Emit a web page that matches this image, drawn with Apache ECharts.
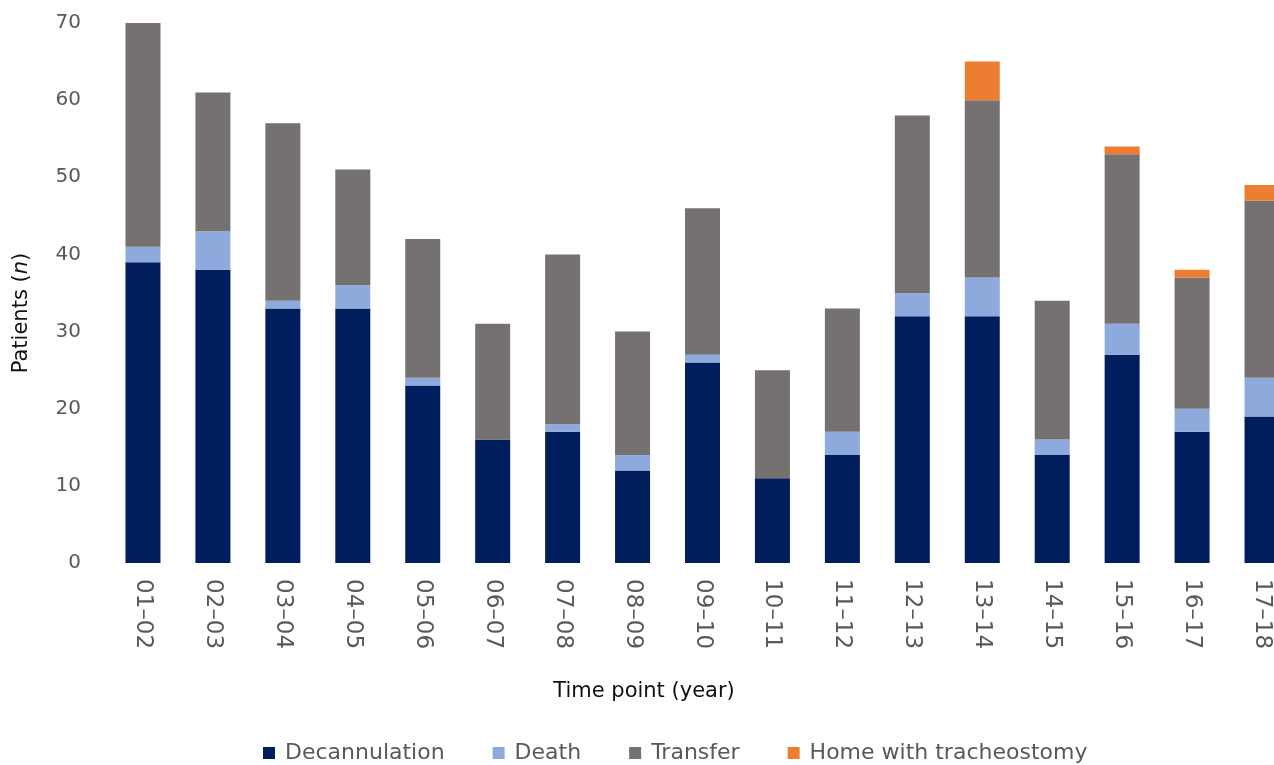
<!DOCTYPE html>
<html>
<head>
<meta charset="utf-8">
<title>Patients by outcome and time point</title>
<script src="https://cdn.jsdelivr.net/npm/echarts@6/dist/echarts.min.js"></script>
<style>
  html, body { margin: 0; padding: 0; background: #ffffff; overflow: hidden; width: 1274px; height: 765px; }
  /* canvas is wider than the window so the plot area can run past the right edge */
  #chart { width: 1300px; height: 765px; }
</style>
</head>
<body>
<div id="chart"></div>
<script>
// Academic years (first year – second year)
const categories = ['01–02', '02–03', '03–04', '04–05', '05–06', '06–07', '07–08', '08–09',
  '09–10', '10–11', '11–12', '12–13', '13–14', '14–15', '15–16', '16–17', '17–18'];

// Patient counts per outcome
const decannulation = [39, 38, 33, 33, 23, 16, 17, 12, 26, 11, 14, 32, 32, 14, 27, 17, 19];
const death         = [2, 5, 1, 3, 1, 0, 1, 2, 1, 0, 3, 3, 5, 2, 4, 3, 5];
const transfer      = [29, 18, 23, 15, 18, 15, 22, 16, 19, 14, 16, 23, 23, 18, 22, 17, 23];
const homeTrach     = [0, 0, 0, 0, 0, 0, 0, 0, 0, 0, 0, 0, 5, 0, 1, 1, 2];

const yTicks = [0, 10, 20, 30, 40, 50, 60, 70];

const seriesDefs = [
  { name: 'Decannulation', data: decannulation, color: '#001E5E' },
  { name: 'Death', data: death, color: '#8EA9DB' },
  { name: 'Transfer', data: transfer, color: '#767171' },
  { name: 'Home with tracheostomy', data: homeTrach, color: '#ED7D31' }
];

const chart = echarts.init(document.getElementById('chart'), null, { renderer: 'canvas' });

chart.setOption({
  animation: false,
  backgroundColor: '#ffffff',
  grid: { left: 108, width: 1189, top: 23, height: 540, containLabel: false },
  xAxis: {
    type: 'category',
    data: categories,
    axisLine: { show: false },
    axisTick: { show: false },
    axisLabel: {
      rotate: -90,
      margin: 16,
      color: '#595959',
      fontSize: 23,
      fontFamily: 'DejaVu Sans'
    }
  },
  yAxis: {
    type: 'value',
    min: yTicks[0],
    max: yTicks[yTicks.length - 1],
    interval: 10,
    axisLine: { show: false },
    axisTick: { show: false },
    splitLine: { show: false },
    axisLabel: {
      margin: 27,
      color: '#595959',
      fontSize: 20,
      fontFamily: 'DejaVu Sans'
    }
  },
  legend: {
    top: 737,
    left: 258,
    itemWidth: 12,
    itemHeight: 12,
    itemGap: 48,
    icon: 'rect',
    textStyle: { color: '#595959', fontSize: 22, fontFamily: 'DejaVu Sans', padding: [0, 0, 0, 5] },
    data: seriesDefs.map(s => s.name)
  },
  graphic: [
    {
      type: 'text',
      x: 22,
      y: 313,
      rotation: Math.PI / 2,
      style: {
        text: '{a|Patients (}{i|n}{a|)}',
        align: 'center',
        verticalAlign: 'middle',
        rich: {
          a: { fontSize: 21, fontFamily: 'DejaVu Sans', fill: '#111111' },
          i: { fontSize: 21, fontFamily: 'DejaVu Sans', fontStyle: 'italic', fill: '#111111' }
        }
      }
    },
    {
      type: 'text',
      x: 644,
      y: 692,
      style: {
        text: 'Time point (year)',
        align: 'center',
        verticalAlign: 'middle',
        fontSize: 21,
        fontFamily: 'DejaVu Sans',
        fill: '#111111'
      }
    }
  ],
  series: seriesDefs.map(s => ({
    name: s.name,
    type: 'bar',
    stack: 'total',
    barWidth: 35,
    data: s.data,
    itemStyle: { color: s.color }
  }))
});
</script>
</body>
</html>
